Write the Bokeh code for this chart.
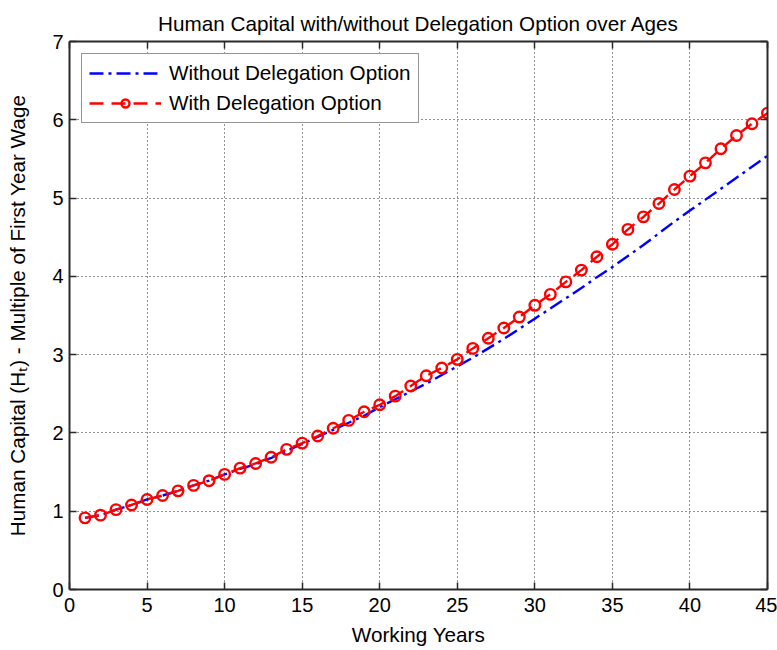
from bokeh.plotting import figure
from bokeh.models import (Range1d, FixedTicker, LinearAxis, Legend, LegendItem, ColumnDataSource)
from bokeh.embed import file_html
from bokeh.resources import INLINE

years = list(range(1, 46))
with_delegation = [0.915, 0.95, 1.02, 1.08, 1.15, 1.20, 1.26, 1.33, 1.39, 1.47,
                   1.55, 1.61, 1.69, 1.79, 1.87, 1.96, 2.06, 2.16, 2.27, 2.36,
                   2.47, 2.60, 2.73, 2.83, 2.94, 3.08, 3.21, 3.34, 3.48, 3.63,
                   3.77, 3.93, 4.08, 4.25, 4.41, 4.60, 4.76, 4.93, 5.11, 5.28,
                   5.45, 5.63, 5.80, 5.95, 6.085]
without_delegation = [0.915, 0.95, 1.02, 1.08, 1.15, 1.20, 1.26, 1.33, 1.39, 1.47,
                      1.54, 1.60, 1.68, 1.77, 1.86, 1.95, 2.04, 2.13, 2.22, 2.33,
                      2.43, 2.53, 2.63, 2.74, 2.85, 2.96, 3.08, 3.20, 3.33, 3.46,
                      3.59, 3.72, 3.85, 3.99, 4.12, 4.26, 4.40, 4.55, 4.70, 4.84,
                      4.98, 5.12, 5.26, 5.40, 5.54]
x_ticks = [0, 5, 10, 15, 20, 25, 30, 35, 40, 45]
y_ticks = [0, 1, 2, 3, 4, 5, 6, 7]

FONT = "'Liberation Sans', Arial, sans-serif"
FS = "20.7px"
TICK_FS = "20px"
AX_COLOR = "#2a2a2a"

p = figure(width=777, height=650, output_backend="svg", toolbar_location=None,
           x_range=Range1d(0, 45), y_range=Range1d(0, 7),
           min_border_left=69, min_border_right=10, min_border_top=41, min_border_bottom=61,
           x_axis_label="Working Years",
           y_axis_label="Human Capital (H\u209c) - Multiple of First Year Wage")
p.title.text = "Human Capital with/without Delegation Option over Ages"
p.title.align = "center"
p.title.vertical_align = "top"
p.title.text_font = FONT
p.title.text_font_size = FS
p.title.text_font_style = "normal"
p.title.text_color = "black"
p.title.standoff = 9
p.outline_line_color = None
p.background_fill_color = "white"
p.border_fill_color = "white"

def style_axis(ax, labels=True):
    ax.axis_line_color = AX_COLOR
    ax.axis_line_width = 2
    ax.major_tick_line_color = AX_COLOR
    ax.major_tick_line_width = 1.5
    ax.major_tick_in = 7
    ax.major_tick_out = 0
    ax.minor_tick_line_color = None
    ax.major_label_text_font = FONT
    ax.major_label_text_font_size = TICK_FS
    ax.major_label_text_color = "black"
    ax.axis_label_text_font = FONT
    ax.axis_label_text_font_size = FS
    ax.axis_label_text_font_style = "normal"
    ax.axis_label_text_color = "black"

p.xaxis.ticker = FixedTicker(ticks=x_ticks)
p.yaxis.ticker = FixedTicker(ticks=y_ticks)
style_axis(p.xaxis[0])
style_axis(p.yaxis[0])
p.xaxis.major_label_standoff = 8
p.xaxis.axis_label_standoff = 8
p.yaxis.major_label_standoff = 6
p.yaxis.axis_label_standoff = 20

top_axis = LinearAxis(ticker=FixedTicker(ticks=x_ticks), major_label_standoff=0,
                      major_label_overrides={t: "" for t in x_ticks})
right_axis = LinearAxis(ticker=FixedTicker(ticks=y_ticks), major_label_standoff=0,
                        major_label_overrides={t: "" for t in y_ticks})
style_axis(top_axis, labels=False)
style_axis(right_axis, labels=False)
p.add_layout(top_axis, "above")
p.add_layout(right_axis, "right")

for g in (p.xgrid[0], p.ygrid[0]):
    g.grid_line_color = "#111111"
    g.grid_line_dash = "1 3"
    g.grid_line_width = 1
    g.grid_line_alpha = 0.9
p.xgrid.ticker = FixedTicker(ticks=x_ticks)
p.ygrid.ticker = FixedTicker(ticks=y_ticks)

src = ColumnDataSource(dict(x=years, w=with_delegation, wo=without_delegation))

blue = p.line("x", "wo", source=src, line_color="#0000ff", line_width=2.4,
              line_dash="14 5 3 5")
red_line = p.line("x", "w", source=src, line_color="#ff0000", line_width=2.4,
                  line_dash="14 8")
red_pts = p.scatter("x", "w", source=src, marker="circle", size=10.5,
                    fill_color=None, line_color="#ff0000", line_width=2.4)

legend = Legend(items=[
    LegendItem(label="Without Delegation Option", renderers=[blue]),
    LegendItem(label="With Delegation Option", renderers=[red_line, red_pts]),
], location="top_left")
legend.margin = 12
legend.padding = 7
legend.spacing = 6
legend.label_height = 20
legend.glyph_height = 20
legend.glyph_width = 72
legend.label_standoff = 8
legend.label_text_font = FONT
legend.label_text_font_size = FS
legend.label_text_color = "black"
legend.border_line_color = AX_COLOR
legend.border_line_width = 1.5
legend.background_fill_color = "white"
legend.background_fill_alpha = 1
p.add_layout(legend, "center")

open("out.html", "w").write(file_html(p, INLINE))
